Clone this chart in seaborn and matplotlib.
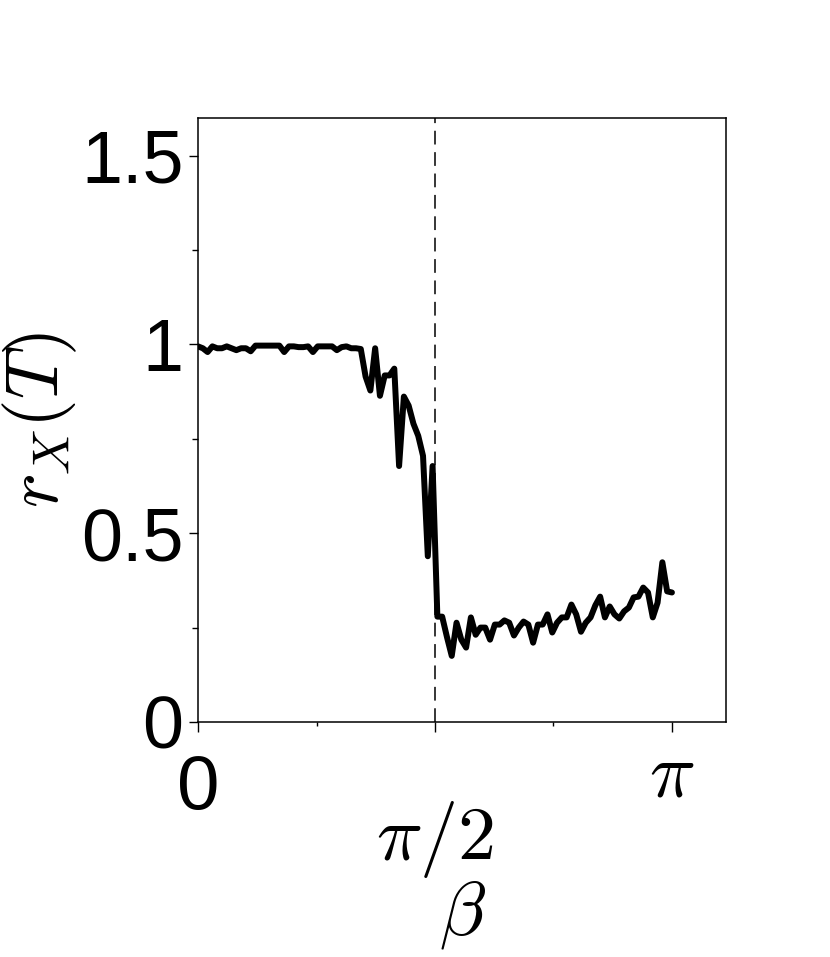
import numpy as np
import pandas as pd
import matplotlib
matplotlib.use("Agg")
import matplotlib.pyplot as plt
import matplotlib.transforms as mtransforms
import seaborn as sns

# ── DATA ──────────────────────────────────────────────────
# plateau near r = 1 for small beta
r_plateau = [0.995, 0.99, 0.98, 0.995, 0.99, 0.99, 0.995, 0.99, 0.985, 0.99,
             0.99, 0.982, 0.997, 0.997, 0.997, 0.997, 0.997, 0.997, 0.98, 0.995,
             0.995, 0.993, 0.993, 0.995, 0.98, 0.995, 0.995, 0.995, 0.995, 0.985,
             0.993, 0.995, 0.99, 0.99, 0.988]
# noisy drop towards pi/2
r_transition = [0.915, 0.878, 0.99, 0.864, 0.918, 0.918, 0.936, 0.678, 0.862, 0.838,
                0.79, 0.758, 0.705, 0.439, 0.678, 0.279, 0.279]
# low branch after pi/2
r_tail = [0.225, 0.175, 0.263, 0.218, 0.197, 0.277, 0.231, 0.25, 0.25, 0.218,
          0.258, 0.258, 0.269, 0.263, 0.229, 0.25, 0.266, 0.258, 0.21, 0.258,
          0.258, 0.285, 0.237, 0.263, 0.277, 0.277, 0.311, 0.285, 0.239, 0.263,
          0.277, 0.309, 0.332, 0.277, 0.306, 0.285, 0.274, 0.293, 0.303, 0.33,
          0.332, 0.356, 0.343, 0.277, 0.316, 0.423, 0.346, 0.343]

r_vals = r_plateau + r_transition + r_tail
beta = np.linspace(0, np.pi, len(r_vals))
df = pd.DataFrame({"beta": beta, "r": r_vals})

x_ticks = [0, np.pi / 2, np.pi]
x_ticklabels = ["0", r"$\pi/2$", r"$\pi$"]
x_minor = [np.pi / 4, 3 * np.pi / 4]
y_ticks = [0, 0.5, 1, 1.5]
y_ticklabels = ["0", "0.5", "1", "1.5"]
y_minor = [0.25, 0.75, 1.25]

# ── STYLE ─────────────────────────────────────────────────
sns.set_style("ticks")
plt.rcParams["font.family"] = ["Liberation Sans", "DejaVu Sans"]
plt.rcParams["mathtext.fontset"] = "cm"
for key in ["text.color", "axes.labelcolor", "xtick.color", "ytick.color", "axes.edgecolor"]:
    plt.rcParams[key] = "black"
FS = 53

fig = plt.figure(figsize=(8.3, 9.57), dpi=100)
ax = fig.add_axes([0.2386, 0.2456, 0.8747 - 0.2386, 0.8767 - 0.2456])

sns.lineplot(data=df, x="beta", y="r", ax=ax, color="black", linewidth=4.3)
ax.axvline(np.pi / 2, color="black", linewidth=1.1, dashes=(9, 5))

ax.set_xlim(0, 3.5)
ax.set_ylim(0, 1.6)

ax.set_yticks(y_ticks, labels=y_ticklabels, fontsize=FS)
ax.set_yticks(y_minor, minor=True)
ax.set_xticks(x_ticks, labels=x_ticklabels, fontsize=FS + 2)
ax.set_xticks(x_minor, minor=True)

ax.tick_params(axis="y", which="major", direction="out", length=6.5, width=1, pad=4)
ax.tick_params(axis="y", which="minor", direction="out", length=4, width=1)
ax.tick_params(axis="x", which="major", direction="out", length=7, width=1, pad=12)
ax.tick_params(axis="x", which="minor", direction="out", length=3, width=1)

for sp in ax.spines.values():
    sp.set_linewidth(1.1)

# stagger the x tick labels like the original
offsets_px = [-6, -51, 8]
for lab, dy in zip(ax.get_xticklabels(), offsets_px):
    off = mtransforms.ScaledTranslation(0, dy / 100, fig.dpi_scale_trans)
    lab.set_transform(lab.get_transform() + off)

ax.set_xlabel(r"$\beta$", fontsize=FS + 2)
ax.xaxis.set_label_coords(0.5, -0.26)
ax.set_ylabel(r"$r_X(T)$", fontsize=FS)
ax.yaxis.set_label_coords(-0.225, 0.5)

fig.savefig("out.png", dpi=100)
